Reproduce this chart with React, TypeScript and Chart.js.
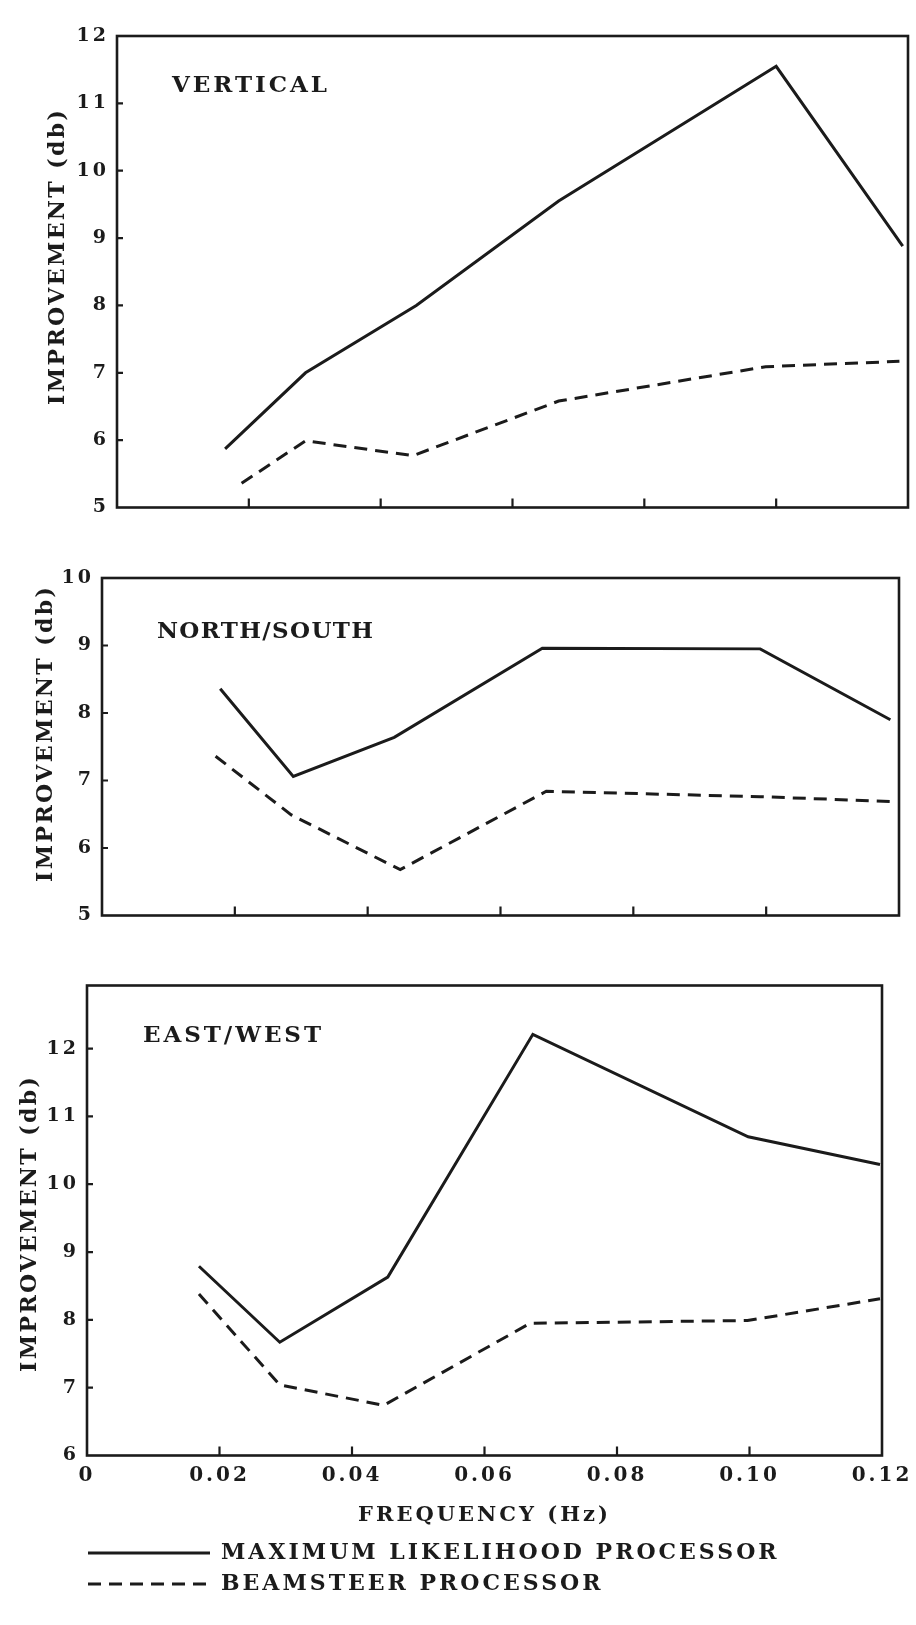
import React, { useEffect, useRef } from 'react';
import { Chart, registerables } from 'chart.js';

Chart.register(...registerables);

// ---------- data ----------
const FREQ_TICKS = [0, 0.02, 0.04, 0.06, 0.08, 0.1, 0.12];

const SERIES_LABELS = ['MAXIMUM LIKELIHOOD PROCESSOR', 'BEAMSTEER PROCESSOR'];

// VERTICAL
const verticalFreqML = [0.0164, 0.0286, 0.0454, 0.067, 0.1, 0.1192];
const verticalML = [5.87, 7.0, 8.0, 9.55, 11.55, 8.88];
const verticalFreqBS = [0.0189, 0.0286, 0.0449, 0.067, 0.0984, 0.1187];
const verticalBS = [5.36, 5.99, 5.77, 6.58, 7.09, 7.17];
const verticalTicks = [5, 6, 7, 8, 9, 10, 11, 12];

// NORTH/SOUTH
const nsFreqML = [0.0178, 0.0288, 0.044, 0.0663, 0.0991, 0.1187];
const nsML = [8.36, 7.06, 7.64, 8.96, 8.95, 7.9];
const nsFreqBS = [0.0171, 0.0285, 0.0449, 0.0669, 0.0991, 0.1187];
const nsBS = [7.36, 6.49, 5.68, 6.84, 6.76, 6.69];
const nsTicks = [5, 6, 7, 8, 9, 10];

// EAST/WEST
const ewFreqML = [0.0169, 0.0291, 0.0454, 0.0673, 0.0998, 0.1197];
const ewML = [8.79, 7.67, 8.63, 12.21, 10.7, 10.29];
const ewFreqBS = [0.0169, 0.0291, 0.0448, 0.0669, 0.0997, 0.1197];
const ewBS = [8.38, 7.04, 6.74, 7.95, 7.99, 8.31];
const ewTicks = [6, 7, 8, 9, 10, 11, 12];

// ---------- style / layout ----------
const INK = '#1b1b1b';
const FONT = "'DejaVu Serif', 'Liberation Serif', serif";

const PANELS = [
  {
    name: 'VERTICAL', freqML: verticalFreqML, ml: verticalML, freqBS: verticalFreqBS, bs: verticalBS,
    yTicks: verticalTicks, yMin: 5, yMax: 12,
    top: 0, height: 540, pad: { left: 0, right: 8, top: 36, bottom: 0 }, yW: 117, xH: 32.5,
    nameX: 172, nameY: 86, nameW: 155, titleX: 58, titleY: 258, showX: false,
  },
  {
    name: 'NORTH/SOUTH', freqML: nsFreqML, ml: nsML, freqBS: nsFreqBS, bs: nsBS,
    yTicks: nsTicks, yMin: 5, yMax: 10,
    top: 540, height: 400, pad: { left: 0, right: 17, top: 38, bottom: 0 }, yW: 102, xH: 24.5,
    nameX: 157, nameY: 92, nameW: 216, titleX: 46, titleY: 195, showX: false,
  },
  {
    name: 'EAST/WEST', freqML: ewFreqML, ml: ewML, freqBS: ewFreqBS, bs: ewBS,
    yTicks: ewTicks, yMin: 6, yMax: 12.93,
    top: 940, height: 685, pad: { left: 0, right: 34, top: 45.5, bottom: 20 }, yW: 87, xH: 77.5,
    nameX: 143, nameY: 96, nameW: 178, titleX: 30, titleY: 285, showX: true, legendLeft: 79,
  },
];

function drawSpaced(ctx: CanvasRenderingContext2D, text: string, x: number, y: number, target: number, font: string) {
  ctx.font = font;
  (ctx as any).letterSpacing = '0px';
  const w = ctx.measureText(text).width;
  const sp = Math.max(0, (target - w) / Math.max(1, text.length - 1));
  (ctx as any).letterSpacing = sp + 'px';
  ctx.textAlign = 'left';
  ctx.textBaseline = 'middle';
  ctx.fillText(text, x, y);
}

function decorPlugin(p: any) {
  return {
    id: 'decor',
    afterLayout(chart: any) {
      if (p.legendLeft !== undefined && chart.legend) {
        const dx = p.legendLeft - chart.legend.left;
        chart.legend.left += dx;
      }
    },
    beforeDraw(chart: any) {
      (chart.ctx as any).letterSpacing = '3px';
    },
    afterDraw(chart: any) {
      const { ctx, chartArea: a, scales } = chart;
      ctx.save();
      (ctx as any).letterSpacing = '0px';
      ctx.strokeStyle = INK;
      ctx.lineWidth = 2.6;
      ctx.setLineDash([]);
      ctx.strokeRect(a.left, a.top, a.right - a.left, a.bottom - a.top);
      ctx.lineWidth = 2.2;
      ctx.beginPath();
      for (const v of FREQ_TICKS.slice(1, -1)) {
        const x = scales.x.getPixelForValue(v);
        ctx.moveTo(x, a.bottom);
        ctx.lineTo(x, a.bottom - 9);
      }
      for (const v of p.yTicks.slice(1)) {
        const y = scales.y.getPixelForValue(v);
        if (y <= a.top + 2) continue;
        ctx.moveTo(a.left, y);
        ctx.lineTo(a.left + 6, y);
      }
      ctx.stroke();
      ctx.fillStyle = INK;
      drawSpaced(ctx, p.name, p.nameX, p.nameY, p.nameW, `bold 23px ${FONT}`);
      ctx.save();
      ctx.translate(p.titleX, p.titleY);
      ctx.rotate(-Math.PI / 2);
      drawSpaced(ctx, 'IMPROVEMENT (db)', -147, 0, 295, `bold 22px ${FONT}`);
      ctx.restore();
      ctx.restore();
    },
  };
}

function PanelChart({ p }: { p: any }) {
  const ref = useRef<HTMLCanvasElement | null>(null);
  useEffect(() => {
    if (!ref.current) return;
    const mk = (xs: number[], ys: number[]) => xs.map((x, i) => ({ x, y: ys[i] }));
    const chart = new Chart(ref.current, {
      type: 'line',
      data: {
        datasets: [
          {
            label: SERIES_LABELS[0],
            data: mk(p.freqML, p.ml),
            borderColor: INK,
            backgroundColor: INK,
            borderWidth: 3,
            pointRadius: 0,
            tension: 0,
            fill: false,
          },
          {
            label: SERIES_LABELS[1],
            data: mk(p.freqBS, p.bs),
            borderColor: INK,
            backgroundColor: INK,
            borderWidth: 3,
            borderDash: [13, 8],
            pointRadius: 0,
            tension: 0,
            fill: false,
          },
        ],
      },
      options: {
        responsive: false,
        animation: false,
        devicePixelRatio: 1,
        layout: { padding: p.pad },
        plugins: {
          tooltip: { enabled: false },
          title: { display: false },
          legend: p.showX
            ? {
                display: true,
                position: 'bottom',
                align: 'start',
                labels: {
                  usePointStyle: false,
                  boxWidth: 122,
                  boxHeight: 0,
                  padding: 9,
                  color: INK,
                  font: { family: FONT, size: 22, weight: 'bold' },
                },
              }
            : { display: false },
        },
        scales: {
          x: {
            type: 'linear',
            min: 0,
            max: 0.12,
            afterBuildTicks: (s: any) => {
              s.ticks = FREQ_TICKS.map((v) => ({ value: v }));
            },
            afterFit: (s: any) => {
              s.height = p.xH;
              s.paddingLeft = 0;
              s.paddingRight = 0;
            },
            grid: { display: false, drawTicks: false },
            border: { display: false },
            ticks: {
              display: p.showX,
              autoSkip: false,
              maxRotation: 0,
              padding: 8,
              color: INK,
              font: { family: FONT, size: 20, weight: 'bold' },
              callback: (v: any) => (Number(v) === 0 ? '0' : Number(v).toFixed(2)),
            },
            title: p.showX
              ? {
                  display: true,
                  text: 'FREQUENCY (Hz)',
                  color: INK,
                  font: { family: FONT, size: 21, weight: 'bold' },
                  padding: { top: 0, bottom: 4.4 },
                }
              : { display: false },
          },
          y: {
            type: 'linear',
            min: p.yMin,
            max: p.yMax,
            afterBuildTicks: (s: any) => {
              s.ticks = p.yTicks.map((v: number) => ({ value: v }));
            },
            afterFit: (s: any) => {
              s.width = p.yW;
              s.paddingTop = 0;
              s.paddingBottom = 0;
            },
            grid: { display: false, drawTicks: false },
            border: { display: false },
            ticks: {
              padding: 8,
              color: INK,
              font: { family: FONT, size: 19, weight: 'bold' },
              callback: (v: any) => String(v),
            },
          },
        },
      },
      plugins: [decorPlugin(p)],
    } as any);
    return () => chart.destroy();
  }, [p]);
  return (
    <canvas
      ref={ref}
      width={916}
      height={p.height}
      style={{ position: 'absolute', left: 0, top: p.top, width: 916, height: p.height, display: 'block' }}
    />
  );
}

export default function App() {
  return (
    <div style={{ position: 'absolute', left: 0, top: 0, width: 916, height: 1625, background: '#ffffff' }}>
      {PANELS.map((p) => (
        <PanelChart key={p.name} p={p} />
      ))}
    </div>
  );
}
